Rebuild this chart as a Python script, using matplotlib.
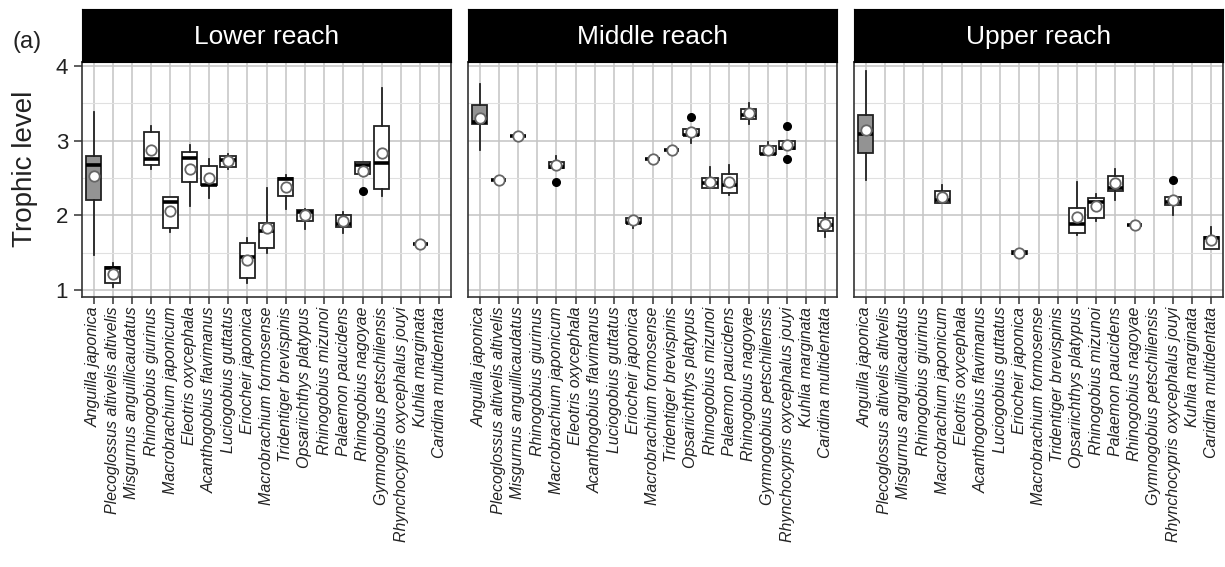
import matplotlib
matplotlib.use("Agg")
import matplotlib.pyplot as plt
import numpy as np

species = ["Anguilla japonica", "Plecoglossus altivelis altivelis", "Misgurnus anguillicaudatus",
           "Rhinogobius giurinus", "Macrobrachium japonicum", "Eleotris oxycephala",
           "Acanthogobius flavimanus", "Luciogobius guttatus", "Eriocheir japonica",
           "Macrobrachium formosense", "Tridentiger brevispinis", "Opsariichthys platypus",
           "Rhinogobius mizunoi", "Palaemon paucidens", "Rhinogobius nagoyae",
           "Gymnogobius petschiliensis", "Rhynchocypris oxycephalus jouyi", "Kuhlia marginata",
           "Caridina multidentata"]
reaches = ["Lower reach", "Middle reach", "Upper reach"]
N = None

# Lower reach
lo_whislo = [1.47, 1.04, N, 2.62, 1.78, 2.12, 2.23, 2.62, 1.09, 1.50, 2.08, 1.82, N, 1.77, 2.55, 2.26, N, 1.62, N]
lo_q1     = [2.20, 1.10, N, 2.67, 1.83, 2.44, 2.40, 2.65, 1.16, 1.56, 2.26, 1.93, N, 1.84, 2.56, 2.35, N, 1.62, N]
lo_med    = [2.67, 1.29, N, 2.76, 2.18, 2.77, 2.41, 2.74, 1.44, 1.79, 2.49, 2.05, N, 1.89, 2.68, 2.70, N, 1.62, N]
lo_q3     = [2.79, 1.31, N, 3.12, 2.24, 2.85, 2.66, 2.79, 1.63, 1.90, 2.50, 2.07, N, 2.00, 2.71, 3.19, N, 1.62, N]
lo_whishi = [3.38, 1.36, N, 3.20, 2.24, 2.94, 2.75, 2.82, 1.70, 2.37, 2.54, 2.09, N, 2.05, 2.72, 3.70, N, 1.62, N]
lo_mean   = [2.53, 1.22, N, 2.88, 2.06, 2.62, 2.50, 2.73, 1.40, 1.83, 2.38, 2.00, N, 1.93, 2.59, 2.84, N, 1.62, N]
lo_fliers = [[], [], [], [], [], [], [], [], [], [], [], [], [], [], [2.33], [], [], [], []]

# Middle reach
mi_whislo = [2.875, 2.47, 3.06, N, 2.64, N, N, N, 1.835, 2.75, 2.875, 2.965, 2.36, 2.27, 3.22, 2.82, 2.89, N, 1.71]
mi_q1     = [3.23, 2.47, 3.06, N, 2.64, N, N, N, 1.90, 2.75, 2.875, 3.07, 2.36, 2.295, 3.29, 2.82, 2.89, N, 1.795]
mi_med    = [3.255, 2.47, 3.06, N, 2.65, N, N, N, 1.90, 2.75, 2.875, 3.07, 2.43, 2.40, 3.35, 2.82, 2.90, N, 1.87]
mi_q3     = [3.48, 2.47, 3.06, N, 2.72, N, N, N, 1.97, 2.75, 2.875, 3.16, 2.50, 2.55, 3.425, 2.93, 2.99, N, 1.96]
mi_whishi = [3.755, 2.47, 3.06, N, 2.79, N, N, N, 1.97, 2.75, 2.875, 3.17, 2.65, 2.68, 3.50, 2.98, 2.99, N, 2.03]
mi_mean   = [3.31, 2.47, 3.06, N, 2.67, N, N, N, 1.94, 2.75, 2.875, 3.12, 2.45, 2.44, 3.37, 2.875, 2.94, N, 1.88]
mi_fliers = [[], [], [], [], [2.44], [], [], [], [], [], [], [3.32], [], [], [], [], [3.19, 2.75], [], []]

# Upper reach
up_whislo = [2.47, N, N, N, 2.17, N, N, N, 1.48, N, N, 1.74, 1.93, 2.20, 1.87, N, 2.00, N, 1.545]
up_q1     = [2.83, N, N, N, 2.17, N, N, N, 1.48, N, N, 1.76, 1.97, 2.33, 1.87, N, 2.14, N, 1.545]
up_med    = [3.085, N, N, N, 2.21, N, N, N, 1.50, N, N, 1.89, 2.18, 2.36, 1.87, N, 2.18, N, 1.69]
up_q3     = [3.35, N, N, N, 2.32, N, N, N, 1.52, N, N, 2.10, 2.23, 2.53, 1.87, N, 2.25, N, 1.71]
up_whishi = [3.93, N, N, N, 2.40, N, N, N, 1.52, N, N, 2.44, 2.28, 2.62, 1.87, N, 2.26, N, 1.84]
up_mean   = [3.14, N, N, N, 2.25, N, N, N, 1.50, N, N, 1.98, 2.12, 2.43, 1.87, N, 2.205, N, 1.67]
up_fliers = [[], [], [], [], [], [], [], [], [], [], [], [], [], [], [], [], [2.47], [], []]

panels = [
    (lo_whislo, lo_q1, lo_med, lo_q3, lo_whishi, lo_mean, lo_fliers),
    (mi_whislo, mi_q1, mi_med, mi_q3, mi_whishi, mi_mean, mi_fliers),
    (up_whislo, up_q1, up_med, up_q3, up_whishi, up_mean, up_fliers),
]

W, H = 1225, 567
fig = plt.figure(figsize=(W / 100, H / 100), dpi=100)
lefts = [82, 468, 854]
pw = 369
top, bottom, strip_top = 62, 297, 9

font = "Liberation Sans"
for k, (left, reach, data) in enumerate(zip(lefts, reaches, panels)):
    ax = fig.add_axes([left / W, 1 - bottom / H, pw / W, (bottom - top) / H])
    whislo, q1, med, q3, whishi, mean, fliers = data
    stats, pos = [], []
    for i in range(len(species)):
        if med[i] is None:
            continue
        stats.append(dict(whislo=whislo[i], q1=q1[i], med=med[i], q3=q3[i], whishi=whishi[i],
                          mean=mean[i], fliers=fliers[i]))
        pos.append(i + 1)
    bp = ax.bxp(stats, positions=pos, widths=0.8, patch_artist=True, showmeans=True,
                showcaps=False, zorder=3,
                boxprops=dict(facecolor="white", edgecolor="#222222", linewidth=1.3),
                whiskerprops=dict(color="#222222", linewidth=1.3),
                medianprops=dict(color="black", linewidth=2.6, solid_capstyle="butt"),
                meanprops=dict(marker="o", markerfacecolor="white", markeredgecolor="#666666",
                               markersize=7.5, markeredgewidth=1.3),
                flierprops=dict(marker="o", markerfacecolor="black", markeredgecolor="black",
                                markersize=5.5))
    for p, b in zip(pos, bp["boxes"]):
        if p == 1:
            b.set_facecolor("#939393")
    ax.set_xlim(0.4, 19.6)
    ax.set_ylim(0.906, 4.054)
    ax.set_yticks([1, 2, 3, 4])
    ax.set_yticks([1.5, 2.5, 3.5], minor=True)
    ax.set_xticks(np.arange(1, len(species) + 1))
    ax.set_xticklabels(species, rotation=90, fontstyle="italic", family=font, fontsize=11.5,
                       color="#222222")
    ax.grid(True, which="major", color="#c4c4c4", linewidth=1.1, zorder=0)
    ax.grid(True, which="minor", axis="y", color="#e0e0e0", linewidth=0.8, zorder=0)
    ax.set_axisbelow(True)
    ax.tick_params(axis="x", length=5, width=1.1, color="#333333", pad=2)
    ax.tick_params(axis="y", which="major", length=6, width=1.1, color="#333333",
                   labelsize=16, labelcolor="#222222", pad=4)
    ax.tick_params(axis="y", which="minor", length=0)
    for lab in ax.get_yticklabels():
        lab.set_family(font)
    if k > 0:
        ax.tick_params(axis="y", which="major", left=False, labelleft=False)
    else:
        ax.set_ylabel("Trophic level", family=font, fontsize=20, color="#222222")
        ax.yaxis.set_label_coords(-0.118, 0.545)
    for s in ax.spines.values():
        s.set_color("#333333")
        s.set_linewidth(1.2)
    sax = fig.add_axes([left / W, 1 - top / H, pw / W, (top - strip_top) / H])
    sax.set_facecolor("black")
    sax.set_xticks([])
    sax.set_yticks([])
    for s in sax.spines.values():
        s.set_color("black")
    sax.text(0.5, 0.48, reach, color="white", ha="center", va="center", fontsize=19,
             family=font, transform=sax.transAxes)

fig.text(12 / W, 1 - 42 / H, "(a)", fontsize=17, family=font, va="center", ha="left",
         color="#222222")

fig.savefig("out.png", dpi=100)
